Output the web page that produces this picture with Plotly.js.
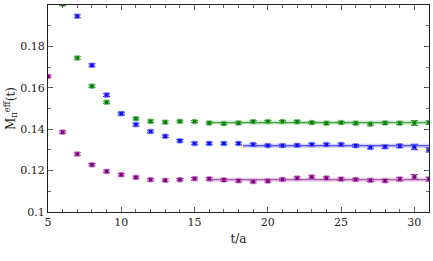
<!DOCTYPE html>
<html><head><meta charset="utf-8">
<script src="https://cdn.plot.ly/plotly-3.0.1.min.js"></script>
<style>html,body{margin:0;padding:0;background:#fff}#c{width:433px;height:261px}</style>
</head><body><div id="c"></div>
<script>
// t values
const tGreen = [6,7,8,9,10,11,12,13,14,15,16,17,18,19,20,21,22,23,24,25,26,27,28,29,30,31];
const mGreen = [0.2004,0.1744,0.1608,0.1530,0.1476,0.1451,0.1438,0.1434,0.1438,0.1437,0.1430,0.1427,0.1430,0.1437,0.1437,0.1437,0.1436,0.1432,0.1429,0.1432,0.1429,0.1425,0.1430,0.1429,0.1430,0.1432];
const eGreen = [0.0006,0.0006,0.0006,0.0006,0.0006,0.0006,0.0006,0.0006,0.0005,0.0005,0.0005,0.0005,0.0005,0.0005,0.0005,0.0005,0.0005,0.0005,0.0005,0.0005,0.0005,0.0006,0.0006,0.0007,0.0012,0.0008];

const tBlue = [7,8,9,10,11,12,13,14,15,16,17,18,19,20,21,22,23,24,25,26,27,28,29,30,31];
const mBlue = [0.1946,0.1709,0.1565,0.1475,0.1422,0.1389,0.1366,0.1344,0.1331,0.1331,0.1331,0.1331,0.1326,0.1321,0.1321,0.1322,0.1326,0.1326,0.1326,0.1320,0.1312,0.1315,0.1319,0.1314,0.1300];
const eBlue = [0.0007,0.0007,0.0007,0.0007,0.0007,0.0006,0.0006,0.0006,0.0006,0.0006,0.0006,0.0006,0.0006,0.0006,0.0006,0.0006,0.0006,0.0006,0.0006,0.0006,0.0007,0.0008,0.0008,0.0013,0.0010];

const tPurple = [5,6,7,8,9,10,11,12,13,14,15,16,17,18,19,20,21,22,23,24,25,26,27,28,29,30,31];
const mPurple = [0.1655,0.1386,0.1280,0.1228,0.1196,0.1180,0.1167,0.1156,0.1153,0.1156,0.1161,0.1160,0.1155,0.1151,0.1147,0.1150,0.1157,0.1164,0.1169,0.1164,0.1159,0.1157,0.1153,0.1151,0.1159,0.1169,0.1159];
const ePurple = [0.0006,0.0006,0.0006,0.0006,0.0006,0.0006,0.0006,0.0006,0.0006,0.0006,0.0006,0.0006,0.0006,0.0006,0.0006,0.0006,0.0006,0.0006,0.0006,0.0006,0.0006,0.0006,0.0006,0.0007,0.0008,0.0012,0.0009];

// plateau fits
const fitGreenT = [16,31];   const fitGreenM = [0.1432,0.1432];
const fitBlueT = [18.3,31];  const fitBlueM = [0.1320,0.1320];
const fitPurpleT = [16,31];  const fitPurpleM = [0.1156,0.1156];

const xTicks = [5,10,15,20,25,30];
const yTicks = [0.1,0.12,0.14,0.16,0.18,0.2];

function pts(t,m,e,col,light){
  return {x:t,y:m,type:'scatter',mode:'markers',
    marker:{symbol:'square',size:4.5,color:col,line:{color:light,width:0.8}},
    error_y:{type:'data',array:e,visible:true,color:col,thickness:1,width:3.5},
    showlegend:false,hoverinfo:'skip'};
}
function fitBand(t,m,col){
  return {x:t,y:m,type:'scatter',mode:'lines',line:{color:col,width:4},opacity:0.25,showlegend:false,hoverinfo:'skip'};
}
function fitLine(t,m,col){
  return {x:t,y:m,type:'scatter',mode:'lines',line:{color:col,width:1.2},showlegend:false,hoverinfo:'skip'};
}
const data = [
  fitBand(fitGreenT,fitGreenM,'#3a9a3a'), fitBand(fitBlueT,fitBlueM,'#4040ff'), fitBand(fitPurpleT,fitPurpleM,'#a040a0'),
  fitLine(fitGreenT,fitGreenM,'#4aa84a'), fitLine(fitBlueT,fitBlueM,'#3030ff'), fitLine(fitPurpleT,fitPurpleM,'#b060b0'),
  pts(tGreen,mGreen,eGreen,'#0a800a','#70c070'),
  pts(tBlue,mBlue,eBlue,'#1010f0','#8080ff'),
  pts(tPurple,mPurple,ePurple,'#880088','#c080c0'),
  // invisible trace to activate the minor-tick overlay axes
  {x:[5],y:[0.1],xaxis:'x2',yaxis:'y2',type:'scatter',mode:'markers',marker:{opacity:0},showlegend:false,hoverinfo:'skip'}
];
const layout = {
  width:433,height:261,margin:{l:48,r:4,t:4.5,b:48.7},
  font:{family:'DejaVu Serif',size:11,color:'#222'},
  xaxis:{showgrid:false,zeroline:false,showline:true,linecolor:'#222',linewidth:1,mirror:'ticks',
    ticks:'inside',ticklen:5,tickcolor:'#444',tickfont:{family:'DejaVu Serif',size:11,color:'#222'},
    range:[5,31],tickvals:xTicks,
    title:{text:'t/a',font:{family:'DejaVu Serif',size:12,color:'#222'},standoff:6}},
  yaxis:{showgrid:false,zeroline:false,showline:true,linecolor:'#222',linewidth:1,mirror:'ticks',
    ticks:'inside',ticklen:5,tickcolor:'#444',tickfont:{family:'DejaVu Serif',size:11,color:'#222'},
    range:[0.1,0.2],tickvals:yTicks,
    title:{text:'M<sub>π</sub><sup>eff</sup>(t)',font:{family:'DejaVu Serif',size:12,color:'#222'},standoff:2}},
  xaxis2:{overlaying:'x',anchor:'y',range:[5,31],dtick:1,tick0:5,ticks:'inside',ticklen:3,tickcolor:'#666',
    showticklabels:false,showgrid:false,zeroline:false,showline:false,mirror:'ticks'},
  yaxis2:{overlaying:'y',anchor:'x',range:[0.1,0.2],dtick:0.01,tick0:0.1,ticks:'inside',ticklen:3,tickcolor:'#666',
    showticklabels:false,showgrid:false,zeroline:false,showline:false,mirror:'ticks'}
};
Plotly.newPlot('c',data,layout,{displayModeBar:false});
</script></body></html>
